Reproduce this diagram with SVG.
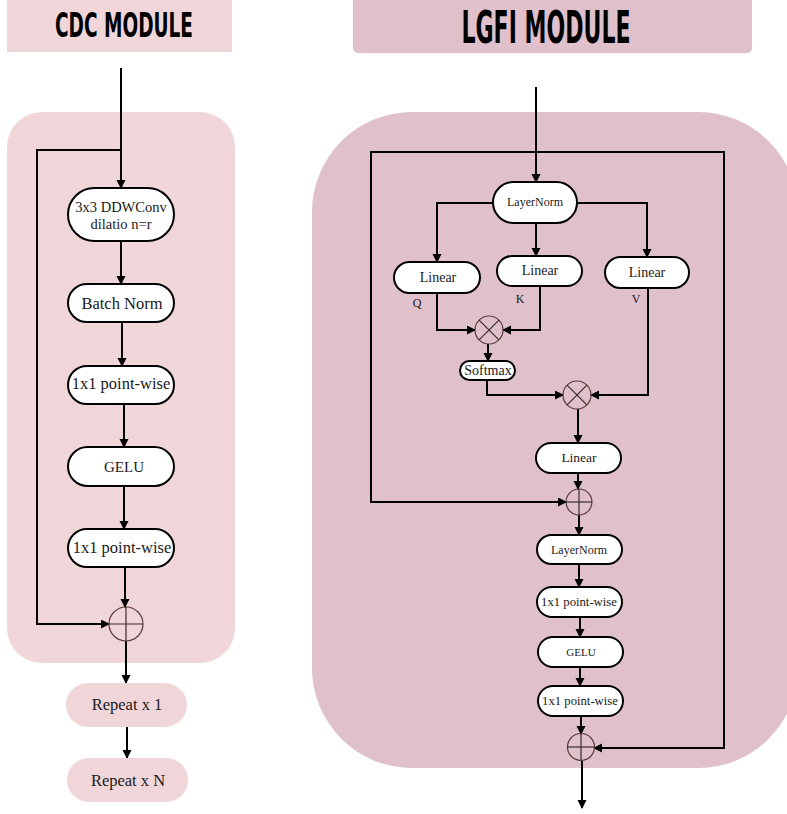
<svg xmlns="http://www.w3.org/2000/svg" width="787" height="814" viewBox="0 0 787 814">
<defs>
<marker id="ah" markerUnits="userSpaceOnUse" markerWidth="10" markerHeight="10" refX="8" refY="4.5" orient="auto">
<path d="M0,0 L9,4.5 L0,9 z" fill="#000"/>
</marker>
<style>
.node{fill:#fff;stroke:#000;stroke-width:2}
.rep{fill:#f0d6d8;stroke:none}
.lbl{font-family:"Liberation Serif","DejaVu Serif",serif;fill:#1a1a1a;text-anchor:middle}
.title{font-family:"DejaVu Sans Condensed","Liberation Sans Narrow","Liberation Sans",sans-serif;font-weight:bold;fill:#000;text-anchor:middle}
.conn{fill:none;stroke:#000;stroke-width:2;marker-end:url(#ah)}
.line{fill:none;stroke:#000;stroke-width:2}
.op{fill:none;stroke:#5a3a3a;stroke-width:1.2}
.opl{stroke:#3a2a2a;stroke-width:1.2}
</style>
</defs>
<rect width="787" height="814" fill="#fff"/>

<!-- banners -->
<g id="cdc-title">
<rect x="7" y="0" width="225" height="52" fill="#f0d6d8"/>
<text class="title" x="124" y="36.5" font-size="33" textLength="138" lengthAdjust="spacingAndGlyphs">CDC MODULE</text>
</g>
<g id="lgfi-title">
<path d="M353 0 H752 V48 A5 5 0 0 1 747 53 H358 A5 5 0 0 1 353 48 Z" fill="#dfc0cb"/>
<text class="title" x="546" y="43" font-size="45" textLength="169" lengthAdjust="spacingAndGlyphs">LGFI MODULE</text>
</g>

<!-- panels -->
<rect id="cdc-panel" x="7" y="112" width="228" height="551" rx="35" fill="#f0d6d8"/>
<rect id="lgfi-panel" x="312" y="112" width="486" height="656" rx="100" fill="#dfc0cb"/>

<!-- connectors -->
<g id="connectors">
<path class="conn" d="M121 68 V188"/>
<path class="conn" d="M121 150 H37 V624 H109"/>
<path class="conn" d="M121 241 V284"/>
<path class="conn" d="M122 322 V366"/>
<path class="conn" d="M124 404 V447"/>
<path class="conn" d="M124 486 V529"/>
<path class="conn" d="M125 567 V607"/>
<path class="conn" d="M126 641 V683"/>
<path class="conn" d="M127 727 V758"/>

<path class="conn" d="M536 87 V182"/>
<path class="conn" d="M536 152 H371 V502 H566"/>
<path class="conn" d="M536 152 H724 V748 H594"/>
<path class="conn" d="M493 203 H437 V262"/>
<path class="conn" d="M536 223 V256"/>
<path class="conn" d="M577 203 H647 V257"/>
<path class="conn" d="M437 293 V330 H475"/>
<path class="conn" d="M540 286 V330 H503"/>
<path class="conn" d="M488 344 V361"/>
<path class="conn" d="M487 380 V395 H563"/>
<path class="conn" d="M648 288 V395 H591"/>
<path class="conn" d="M578 409 V443"/>
<path class="conn" d="M578 473 V489"/>
<path class="conn" d="M579 515 V535"/>
<path class="conn" d="M579 564 V587"/>
<path class="conn" d="M580 617 V637"/>
<path class="conn" d="M580 667 V686"/>
<path class="conn" d="M581 716 V734"/>
<path class="conn" d="M582 761 V808"/>
</g>

<!-- CDC nodes -->
<g id="cdc-ddwconv">
<rect class="node" x="68" y="188" width="106" height="53" rx="26.5"/>
<text class="lbl" x="121" y="212" font-size="14.5">3x3 DDWConv</text>
<text class="lbl" x="121" y="229" font-size="14.5">dilatio n=r</text>
</g>
<g id="cdc-bn">
<rect class="node" x="68" y="284" width="106" height="38" rx="19"/>
<text class="lbl" x="122" y="309" font-size="16.5">Batch Norm</text>
</g>
<g id="cdc-pw1">
<rect class="node" x="68" y="366" width="106" height="38" rx="19"/>
<text class="lbl" x="121" y="389" font-size="16.5">1x1 point-wise</text>
</g>
<g id="cdc-gelu">
<rect class="node" x="68" y="447" width="106" height="39" rx="19.5"/>
<text class="lbl" x="124" y="472" font-size="15">GELU</text>
</g>
<g id="cdc-pw2">
<rect class="node" x="68" y="529" width="106" height="38" rx="19"/>
<text class="lbl" x="122" y="553" font-size="16.5">1x1 point-wise</text>
</g>
<g id="cdc-add">
<circle class="op" cx="126" cy="624" r="17"/>
<line class="opl" x1="109" y1="624" x2="143" y2="624"/>
<line class="opl" x1="126" y1="607" x2="126" y2="641"/>
</g>
<g id="cdc-rep1">
<rect class="rep" x="66" y="683" width="121" height="44" rx="22"/>
<text class="lbl" x="127" y="710" font-size="16.5">Repeat x 1</text>
</g>
<g id="cdc-repN">
<rect class="rep" x="67" y="758" width="121" height="44" rx="22"/>
<text class="lbl" x="128" y="786" font-size="16.5">Repeat x N</text>
</g>

<!-- LGFI nodes -->
<g id="lgfi-ln1">
<rect class="node" x="493" y="182" width="84" height="41" rx="20.5"/>
<text class="lbl" x="535" y="206" font-size="12">LayerNorm</text>
</g>
<g id="lgfi-q">
<rect class="node" x="394" y="262" width="86" height="31" rx="15.5"/>
<text class="lbl" x="438" y="282" font-size="14">Linear</text>
</g>
<g id="lgfi-k">
<rect class="node" x="497" y="256" width="85" height="30" rx="15"/>
<text class="lbl" x="540" y="275" font-size="14">Linear</text>
</g>
<g id="lgfi-v">
<rect class="node" x="605" y="257" width="84" height="31" rx="15.5"/>
<text class="lbl" x="647" y="277" font-size="14">Linear</text>
</g>
<g id="lgfi-labels">
<text class="lbl" x="417" y="307" font-size="12">Q</text>
<text class="lbl" x="520" y="303" font-size="12">K</text>
<text class="lbl" x="636" y="303" font-size="12">V</text>
</g>
<g id="lgfi-mul1">
<circle class="op" cx="489" cy="330" r="14"/>
<line class="opl" x1="479.1" y1="320.1" x2="498.9" y2="339.9"/>
<line class="opl" x1="498.9" y1="320.1" x2="479.1" y2="339.9"/>
</g>
<g id="lgfi-softmax">
<rect class="node" x="460" y="361" width="55" height="19" rx="9.5"/>
<text class="lbl" x="488" y="375" font-size="14">Softmax</text>
</g>
<g id="lgfi-mul2">
<circle class="op" cx="577" cy="395" r="14"/>
<line class="opl" x1="567.1" y1="385.1" x2="586.9" y2="404.9"/>
<line class="opl" x1="586.9" y1="385.1" x2="567.1" y2="404.9"/>
</g>
<g id="lgfi-linear">
<rect class="node" x="536" y="443" width="85" height="30" rx="15"/>
<text class="lbl" x="579" y="462" font-size="13.5">Linear</text>
</g>
<g id="lgfi-add1">
<circle class="op" cx="579" cy="502" r="13"/>
<line class="opl" x1="566" y1="502" x2="592" y2="502"/>
<line class="opl" x1="579" y1="489" x2="579" y2="515"/>
</g>
<g id="lgfi-ln2">
<rect class="node" x="537" y="535" width="85" height="29" rx="14.5"/>
<text class="lbl" x="579" y="554" font-size="12">LayerNorm</text>
</g>
<g id="lgfi-pw1">
<rect class="node" x="537" y="587" width="85" height="30" rx="15"/>
<text class="lbl" x="579" y="606" font-size="12.7">1x1 point-wise</text>
</g>
<g id="lgfi-gelu">
<rect class="node" x="538" y="637" width="85" height="30" rx="15"/>
<text class="lbl" x="581" y="656" font-size="11">GELU</text>
</g>
<g id="lgfi-pw2">
<rect class="node" x="538" y="686" width="85" height="30" rx="15"/>
<text class="lbl" x="580" y="705" font-size="12.7">1x1 point-wise</text>
</g>
<g id="lgfi-add2">
<circle class="op" cx="581" cy="747" r="13.5"/>
<line class="opl" x1="567.5" y1="747" x2="594.5" y2="747"/>
<line class="opl" x1="581" y1="733.5" x2="581" y2="760.5"/>
</g>
</svg>
